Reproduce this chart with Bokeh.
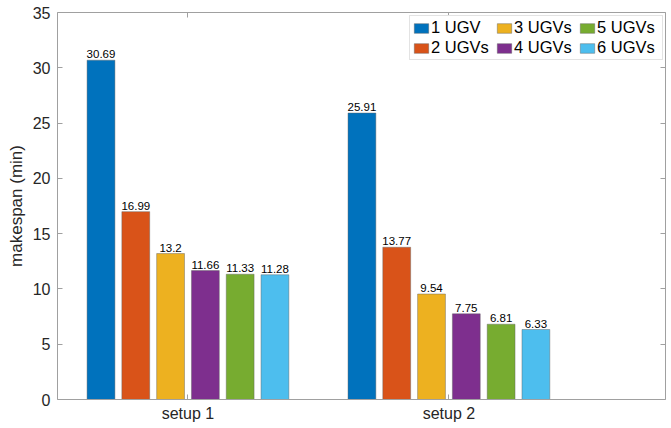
from bokeh.plotting import figure
from bokeh.models import Range1d, LinearAxis, FixedTicker, Legend, LegendItem, ColumnDataSource, LabelSet
from bokeh.core.properties import value
from bokeh.embed import file_html
from bokeh.resources import INLINE

groups = ["setup 1", "setup 2"]
series_names = ["1 UGV", "2 UGVs", "3 UGVs", "4 UGVs", "5 UGVs", "6 UGVs"]
ugv1 = [30.69, 25.91]
ugv2 = [16.99, 13.77]
ugv3 = [13.2, 9.54]
ugv4 = [11.66, 7.75]
ugv5 = [11.33, 6.81]
ugv6 = [11.28, 6.33]
series_values = [ugv1, ugv2, ugv3, ugv4, ugv5, ugv6]
colors = ["#0072BD", "#D95319", "#EDB120", "#7E2F8E", "#77AC30", "#4DBEEE"]
y_ticks = [0, 5, 10, 15, 20, 25, 30, 35]

FONT = "Liberation Sans"
AX = "#a0a0a0"
TXT = "#262626"

p = figure(width=671, height=428, x_range=Range1d(0.5, 2.83), y_range=Range1d(0, 35),
           output_backend="svg", toolbar_location=None,
           min_border_left=57, min_border_right=6, min_border_top=12, min_border_bottom=29)
p.grid.visible = False
p.outline_line_color = None
p.background_fill_color = "white"
p.border_fill_color = "white"

xpos = [i + 1 for i in range(len(groups))]
n = len(series_names)
group_width = 0.8
step = group_width / n
bar_w = step * 0.8

items = []
for k, (name, vals, col) in enumerate(zip(series_names, series_values, colors)):
    off = (2 * k + 1) * group_width / (2 * n) - group_width / 2
    xs = [x + off for x in xpos]
    src = ColumnDataSource(dict(x=xs, top=vals, lab=[f"{v:g}" for v in vals]))
    r = p.vbar(x="x", top="top", width=bar_w, source=src, fill_color=col,
               line_color="#606060", line_alpha=0.55, line_width=0.8)
    items.append(LegendItem(label=name, renderers=[r]))
    p.add_layout(LabelSet(x="x", y="top", text="lab", source=src, text_align="center",
                          text_baseline="bottom", y_offset=2, text_font_size="11.5px",
                          text_font=value(FONT), text_color="black"))

def style_axis(ax):
    ax.axis_line_color = AX
    ax.major_tick_line_color = AX
    ax.minor_tick_line_color = None
    ax.major_tick_in = 5
    ax.major_tick_out = 0
    ax.major_label_text_font = FONT
    ax.major_label_text_color = TXT
    ax.major_label_text_font_size = "16px"

def mirror_axis(ticks):
    ax = LinearAxis(ticker=FixedTicker(ticks=[], minor_ticks=ticks))
    ax.axis_line_color = AX
    ax.major_tick_line_color = None
    ax.minor_tick_line_color = AX
    ax.minor_tick_in = 5
    ax.minor_tick_out = 0
    ax.major_label_text_font_size = "16px"
    return ax

p.xaxis.ticker = FixedTicker(ticks=xpos)
p.xaxis.major_label_overrides = {x: g for x, g in zip(xpos, groups)}
p.yaxis.ticker = FixedTicker(ticks=y_ticks)
style_axis(p.xaxis[0])
style_axis(p.yaxis[0])
p.xaxis.major_label_standoff = 5
p.yaxis.major_label_standoff = 7
p.yaxis.axis_label = "makespan (min)"
p.yaxis.axis_label_text_font = FONT
p.yaxis.axis_label_text_font_style = "normal"
p.yaxis.axis_label_text_font_size = "17px"
p.yaxis.axis_label_text_color = TXT
p.yaxis.axis_label_standoff = 4

p.add_layout(mirror_axis(y_ticks), "right")
p.add_layout(mirror_axis(xpos), "above")

legend = Legend(items=items, location=(352, 339), orientation="vertical", nrows=2,
                label_text_font=FONT, label_text_font_size="16.5px", label_text_color="black",
                glyph_width=18, glyph_height=12, label_standoff=1, label_height=16,
                label_width=63, padding=2, spacing=1, margin=0,
                border_line_color="#c8c8c8", border_line_width=1,
                background_fill_color="white", background_fill_alpha=1)
p.add_layout(legend, "center")

open("out.html", "w").write(file_html(p, INLINE))
